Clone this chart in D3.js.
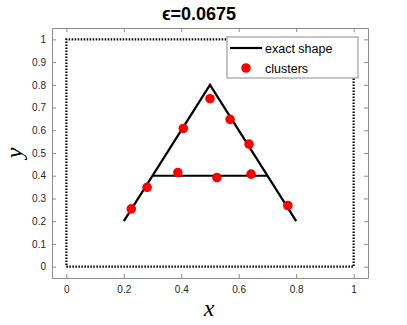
<!DOCTYPE html>
<html>
<head>
<meta charset="utf-8">
<script src="https://cdn.jsdelivr.net/npm/d3@7"></script>
<style>
  body { margin: 0; background: #fff; }
  svg text { font-family: "Liberation Sans", Arial, sans-serif; }
</style>
</head>
<body>
<div id="chart"></div>
<script>
// exact shape segments (the letter "A")
const shapeX = [[0.2, 0.5, 0.8], [0.3, 0.7]];
const shapeY = [[0.2, 0.8, 0.2], [0.4, 0.4]];
// cluster centres
const clusterX = [0.500, 0.407, 0.570, 0.636, 0.388, 0.524, 0.643, 0.281, 0.226, 0.771];
const clusterY = [0.739, 0.608, 0.648, 0.539, 0.414, 0.392, 0.407, 0.349, 0.254, 0.269];
// dotted domain boundary
const boxX = [0, 1, 1, 0, 0];
const boxY = [0, 0, 1, 1, 0];
const tickX = [0, 0.2, 0.4, 0.6, 0.8, 1];
const tickY = [0, 0.1, 0.2, 0.3, 0.4, 0.5, 0.6, 0.7, 0.8, 0.9, 1];

const fullWidth = 407, fullHeight = 325;
const margin = { top: 28, right: 39, bottom: 47, left: 52 };
const width = fullWidth - margin.left - margin.right;
const height = fullHeight - margin.top - margin.bottom;

const root = d3.select("#chart").append("svg")
    .attr("width", fullWidth)
    .attr("height", fullHeight);

const svg = root.append("g")
    .attr("transform", `translate(${margin.left},${margin.top})`);

const x = d3.scaleLinear().domain([-0.05, 1.05]).range([0, width]);
const y = d3.scaleLinear().domain([-0.05, 1.05]).range([height, 0]);

const axisColor = "#8c8c8c";

// axes with inward ticks on all four sides
svg.append("g")
    .attr("transform", `translate(0,${height})`)
    .call(d3.axisBottom(x).tickValues(tickX).tickSizeInner(-4).tickSizeOuter(0).tickPadding(8).tickFormat(d3.format("")));
svg.append("g")
    .call(d3.axisTop(x).tickValues(tickX).tickSizeInner(-4).tickSizeOuter(0).tickFormat(""));
svg.append("g")
    .call(d3.axisLeft(y).tickValues(tickY).tickSizeInner(-4).tickSizeOuter(0).tickPadding(6).tickFormat(d3.format("")));
svg.append("g")
    .attr("transform", `translate(${width},0)`)
    .call(d3.axisRight(y).tickValues(tickY).tickSizeInner(-4).tickSizeOuter(0).tickFormat(""));

svg.selectAll(".domain").attr("stroke", axisColor).attr("stroke-width", 1);
svg.selectAll(".tick line").attr("stroke", axisColor);
svg.selectAll(".tick text")
    .style("font-size", "10px")
    .attr("fill", "#262626");

const line = d3.line().x(d => x(d[0])).y(d => y(d[1]));

// dotted square
svg.append("path")
    .datum(boxX.map((v, i) => [v, boxY[i]]))
    .attr("d", line)
    .attr("fill", "none")
    .attr("stroke", "#000")
    .attr("stroke-width", 2.2)
    .attr("stroke-dasharray", "1.5,1.5");

// exact shape
shapeX.forEach((xs, k) => {
    svg.append("path")
        .datum(xs.map((v, i) => [v, shapeY[k][i]]))
        .attr("d", line)
        .attr("fill", "none")
        .attr("stroke", "#000")
        .attr("stroke-width", 2.2);
});

// clusters
svg.selectAll(".cluster")
    .data(clusterX.map((v, i) => [v, clusterY[i]]))
    .enter()
    .append("circle")
    .attr("class", "cluster")
    .attr("cx", d => x(d[0]))
    .attr("cy", d => y(d[1]))
    .attr("r", 4.8)
    .attr("fill", "#ff0000");

// legend
const lg = root.append("g").attr("transform", "translate(227,37)");
lg.append("rect")
    .attr("width", 131).attr("height", 41)
    .attr("fill", "#fff")
    .attr("stroke", axisColor);
lg.append("line")
    .attr("x1", 3).attr("x2", 35).attr("y1", 11).attr("y2", 11)
    .attr("stroke", "#000").attr("stroke-width", 2.2);
lg.append("text").attr("x", 38).attr("y", 15.5)
    .style("font-size", "12.5px").attr("fill", "#000").text("exact shape");
lg.append("circle").attr("cx", 19).attr("cy", 31).attr("r", 4.8).attr("fill", "#ff0000");
lg.append("text").attr("x", 38).attr("y", 35.5)
    .style("font-size", "12.5px").attr("fill", "#000").text("clusters");

// title
root.append("text")
    .attr("x", 199).attr("y", 20)
    .attr("text-anchor", "middle")
    .style("font-size", "18px")
    .style("font-weight", "bold")
    .text("ϵ=0.0675");

// axis labels
root.append("text")
    .attr("x", 209).attr("y", 316)
    .attr("text-anchor", "middle")
    .style("font-family", "'Liberation Serif', 'DejaVu Serif', serif")
    .style("font-style", "italic")
    .style("font-size", "24px")
    .text("x");

root.append("text")
    .attr("transform", "translate(22,153) rotate(-90)")
    .attr("text-anchor", "middle")
    .style("font-family", "'Liberation Serif', 'DejaVu Serif', serif")
    .style("font-style", "italic")
    .style("font-size", "24px")
    .text("y");
</script>
</body>
</html>
